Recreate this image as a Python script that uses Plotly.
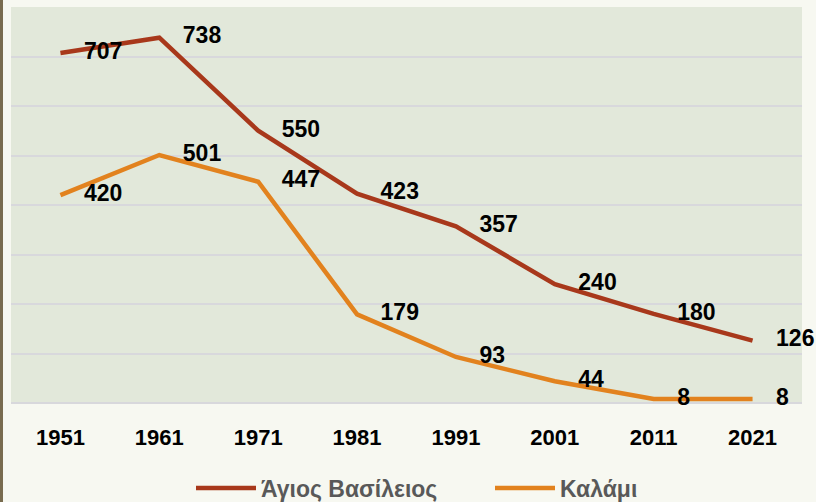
import plotly.graph_objects as go

years = ["1951", "1961", "1971", "1981", "1991", "2001", "2011", "2021"]
agios_vasileios = [707, 738, 550, 423, 357, 240, 180, 126]
kalami = [420, 501, 447, 179, 93, 44, 8, 8]
series_names = ["Άγιος Βασίλειος", "Καλάμι"]
series_colors = ["#a8381b", "#e2821e"]

FONT = "Liberation Sans, Arial, sans-serif"

fig = go.Figure()
for name, vals, col in zip(series_names, [agios_vasileios, kalami], series_colors):
    fig.add_trace(go.Scatter(
        x=years, y=vals, name=name, mode="lines",
        line=dict(color=col, width=4.5),
        cliponaxis=False, hoverinfo="x+y+name",
    ))
for name, vals in zip(series_names, [agios_vasileios, kalami]):
    fig.add_trace(go.Scatter(
        x=years, y=vals, name=name + " labels", mode="markers+text",
        marker=dict(size=36, color="rgba(0,0,0,0)"),
        text=[str(v) for v in vals], textposition="middle right",
        textfont=dict(family=FONT, size=23, color="#000000", weight="bold"),
        showlegend=False, hoverinfo="skip", cliponaxis=False,
    ))

fig.add_shape(type="rect", xref="paper", yref="paper",
              x0=-11/791, x1=-8/791, y0=-0.3, y1=1.1,
              fillcolor="#786b4f", line=dict(width=0), layer="below")

fig.update_layout(
    width=816, height=502,
    margin=dict(l=11, r=14, t=7, b=99, autoexpand=False),
    paper_bgcolor="#f7f8f1",
    plot_bgcolor="#e2e8da",
    showlegend=True,
    legend=dict(
        orientation="h", xref="container", yref="container",
        x=191/816, xanchor="left", y=14/502, yanchor="middle",
        font=dict(family=FONT, size=23, color="#595959", weight="bold"),
        bgcolor="rgba(0,0,0,0)", itemwidth=60, tracegroupgap=0,
        entrywidth=224, entrywidthmode="pixels",
    ),
    xaxis=dict(
        type="category", range=[-0.5, 7.5], autorange=False,
        showgrid=False, zeroline=False, showline=False,
        ticks="", ticklabelstandoff=19, automargin=False,
        tickfont=dict(family=FONT, size=22, color="#000000", weight="bold"),
    ),
    yaxis=dict(
        range=[0, 800], dtick=100, showgrid=True, gridcolor="#d8d8dc", gridwidth=2,
        zeroline=True, zerolinecolor="#d8d8dc", zerolinewidth=2,
        showticklabels=False, ticks="", showline=False, automargin=False,
    ),
)

fig.write_html(
    "out.html",
    config={"displayModeBar": False},
    post_script="document.body.style.margin='0';document.body.style.overflow='hidden';",
)
